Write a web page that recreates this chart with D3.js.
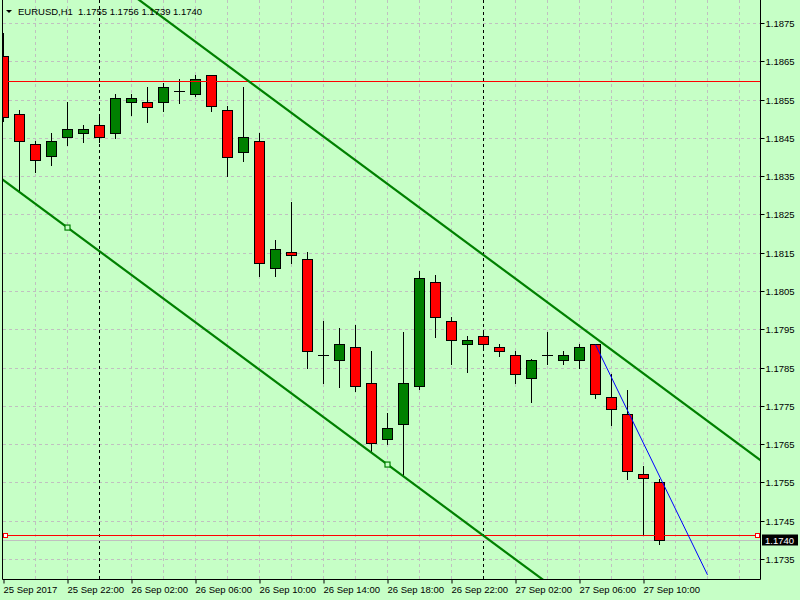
<!DOCTYPE html>
<html>
<head>
<meta charset="utf-8">
<script src="https://cdn.jsdelivr.net/npm/d3@7"></script>
<style>
html,body{margin:0;padding:0;background:#c6ffc6;}
svg{display:block;}
text{font-family:"Liberation Sans",Arial,sans-serif;font-size:9.5px;fill:#000;}
</style>
</head>
<body>
<svg id="chart" width="800" height="600"></svg>
<script>
// ---- data ----
const symbolTitle = "EURUSD,H1";
const lastOHLC = "1.1755 1.1756 1.1739 1.1740";
const opens  = [1.18663,1.18512,1.18433,1.18402,1.18451,1.18462,1.18483,1.18462,1.18543,1.18543,1.18543,1.18572,1.18564,1.18613,1.18522,1.18412,1.18441,1.18111,1.18152,1.18133,1.17883,1.17871,1.17903,1.17811,1.17663,1.17702,1.17801,1.18073,1.17971,1.17911,1.17932,1.17903,1.17882,1.17822,1.17882,1.17871,1.17871,1.17911,1.17772,1.17730,1.17571,1.1755];
const highs  = [1.18724,1.18523,1.18443,1.18463,1.18544,1.18484,1.18510,1.18564,1.18564,1.18583,1.18593,1.18603,1.18613,1.18614,1.18533,1.18583,1.18463,1.18183,1.18283,1.18152,1.17972,1.17953,1.17961,1.17893,1.17731,1.17942,1.18101,1.18092,1.17981,1.17932,1.17945,1.17911,1.17892,1.17872,1.17943,1.17892,1.17911,1.17911,1.17833,1.17791,1.17593,1.1756];
const lows   = [1.18493,1.18312,1.18362,1.18379,1.18432,1.18440,1.18440,1.18450,1.18510,1.18492,1.18521,1.18542,1.18560,1.18521,1.18351,1.18390,1.18090,1.18090,1.18122,1.17850,1.17810,1.17800,1.17789,1.17629,1.17651,1.17569,1.17795,1.17931,1.17860,1.17839,1.17898,1.17881,1.17811,1.17761,1.17860,1.17860,1.17850,1.17771,1.17701,1.17560,1.17412,1.1739];
const closes = [1.18504,1.18441,1.18391,1.18441,1.18473,1.18473,1.18451,1.18553,1.18553,1.18531,1.18582,1.18572,1.18603,1.18532,1.18401,1.18451,1.18122,1.18161,1.18143,1.17892,1.17883,1.17911,1.17801,1.17653,1.17692,1.17811,1.18083,1.17981,1.17921,1.17921,1.17911,1.17892,1.17832,1.17871,1.17882,1.17882,1.17903,1.17780,1.17741,1.17581,1.17561,1.1740];

const priceTicks = [1.1735,1.1745,1.1755,1.1765,1.1775,1.1785,1.1795,1.1805,1.1815,1.1825,1.1835,1.1845,1.1855,1.1865,1.1875];
const priceTickLabels = ["1.1735","1.1745","1.1755","1.1765","1.1775","1.1785","1.1795","1.1805","1.1815","1.1825","1.1835","1.1845","1.1855","1.1865","1.1875"];
const timeTickBars = [0,4,8,12,16,20,24,28,32,36,40];
const timeTickLabels = ["25 Sep 2017","25 Sep 22:00","26 Sep 02:00","26 Sep 06:00","26 Sep 10:00","26 Sep 14:00","26 Sep 18:00","26 Sep 22:00","27 Sep 02:00","27 Sep 06:00","27 Sep 10:00"];
const gridBars = [2,4,6,8,10,12,14,16,18,20,22,24,26,28,30,32,34,36,38,40,42,44,46];
const daySeparatorBars = [6,30];

// objects
const hLineUpper = 1.18598;      // red horizontal line
const hLineLower = 1.17412;      // red horizontal line with end markers
const bidPrice = 1.1740;
const bidLabel = "1.1740";
const channelBars = [4,24];           // lower channel anchors (bar index)
const channelPrices = [1.18217,1.17598];
const channelWidth = 0.00733;         // price offset of upper parallel line
const trendBars = [37,44];            // blue trend line
const trendPrices = [1.17911,1.17310];

// ---- layout ----
const W = 800, H = 600;
const plotLeft = 2.5, plotRight = 760.5, plotBottom = 579.5;
const svg = d3.select("#chart");
const bg = "#c6ffc6";
const cGreen = "#008000", cRed = "#ff0000";

svg.append("rect").attr("width",W).attr("height",H).attr("fill",bg);

const xs = d3.scaleLinear().domain([0,41]).range([3.5,659.5]);
const ys = d3.scaleLinear().domain([1.1735,1.1875]).range([559.5,23.5]);
const sy = p => Math.floor(ys(p)) + 0.5;

svg.append("defs").append("clipPath").attr("id","plotclip")
  .append("rect").attr("x",3).attr("y",0).attr("width",757).attr("height",579);

const plot = svg.append("g").attr("clip-path","url(#plotclip)");

// grid
plot.selectAll("line.hgrid").data(priceTicks).enter().append("line")
  .attr("x1",3).attr("x2",760).attr("y1",d=>sy(d)).attr("y2",d=>sy(d))
  .style("stroke","#c0c0c0").attr("stroke-dasharray","3,3");
plot.selectAll("line.vgrid").data(gridBars.filter(b=>!daySeparatorBars.includes(b))).enter().append("line")
  .attr("x1",d=>xs(d)).attr("x2",d=>xs(d)).attr("y1",0).attr("y2",579)
  .style("stroke","#c0c0c0").attr("stroke-dasharray","3,3");
plot.selectAll("line.sep").data(daySeparatorBars).enter().append("line")
  .attr("x1",d=>xs(d)).attr("x2",d=>xs(d)).attr("y1",0).attr("y2",579)
  .style("stroke","#000").attr("stroke-dasharray","3,3");

// bid line
plot.append("line").attr("x1",3).attr("x2",760).attr("y1",sy(bidPrice)).attr("y2",sy(bidPrice))
  .style("stroke","#c0c0c0");

// candles
const bars = d3.range(opens.length).map(i=>({i,o:opens[i],h:highs[i],l:lows[i],c:closes[i]}));
const cg = plot.append("g");
bars.forEach(b=>{
  const x = xs(b.i);
  cg.append("line").attr("x1",x).attr("x2",x).attr("y1",sy(b.h)-0.5).attr("y2",sy(b.l)+0.5)
    .style("stroke","#000").attr("stroke-width",1);
  const top = sy(Math.max(b.o,b.c)), bot = sy(Math.min(b.o,b.c));
  if (Math.abs(b.o-b.c) < 0.00002) {
    cg.append("line").attr("x1",x-5.5).attr("x2",x+5.5).attr("y1",top).attr("y2",top).style("stroke","#000");
  } else {
    cg.append("rect").attr("x",x-5).attr("width",10).attr("y",top).attr("height",Math.max(1,bot-top))
      .style("fill", b.c>b.o ? cGreen : cRed).style("stroke","#000").attr("stroke-width",1);
  }
});

// red horizontal lines
const redG = plot.append("g");
[hLineUpper, hLineLower].forEach(p=>{
  redG.append("rect").attr("x",3).attr("width",757).attr("y",Math.floor(ys(p))).attr("height",1)
    .style("fill",cRed);
});
[5.5,757.5].forEach(x=>{
  redG.append("rect").attr("x",x-2).attr("y",sy(hLineLower)-2).attr("width",4).attr("height",4)
    .style("fill","#ffffff").style("stroke",cRed).attr("stroke-width",1);
});

// channel
const slope = (channelPrices[1]-channelPrices[0])/(channelBars[1]-channelBars[0]);
const chP = i => channelPrices[0] + slope*(i-channelBars[0]);
const iA = -2, iB = 50;
[0, channelWidth].forEach(off=>{
  plot.append("line").attr("x1",xs(iA)).attr("y1",ys(chP(iA)+off)).attr("x2",xs(iB)).attr("y2",ys(chP(iB)+off))
    .style("stroke",cGreen).attr("stroke-width",2.2);
});
channelBars.forEach((b,k)=>{
  plot.append("rect").attr("x",xs(b)-2.5).attr("y",ys(channelPrices[k])-2.5).attr("width",5).attr("height",5)
    .style("fill",bg).style("stroke",cGreen).attr("stroke-width",1.2);
});

// blue trend line
plot.append("line").attr("x1",xs(trendBars[0])).attr("y1",ys(trendPrices[0]))
  .attr("x2",xs(trendBars[1])).attr("y2",ys(trendPrices[1]))
  .style("stroke","#0000ff").attr("stroke-width",1);

// frame
svg.append("path").attr("d",`M${plotLeft},0 V${plotBottom} H${plotRight} V0`)
  .style("fill","none").style("stroke","#000");

// right axis
const ya = svg.append("g").attr("transform",`translate(${plotRight},0)`)
  .call(d3.axisRight(ys).tickValues(priceTicks).tickSize(4).tickSizeOuter(0)
    .tickFormat((d,i)=>priceTickLabels[i]));
ya.select(".domain").remove();
ya.selectAll(".tick line").style("stroke","#000");
ya.selectAll(".tick").attr("transform",d=>`translate(0,${sy(d)})`);
ya.selectAll(".tick text").attr("x",5).attr("dy","0.34em")
  .style("font-family","'Liberation Sans',Arial,sans-serif").style("font-size","9.5px").style("fill","#000");

// bid label box
svg.append("rect").attr("x",762).attr("y",sy(bidPrice)-6).attr("width",36).attr("height",11).style("fill","#000");
svg.append("text").attr("x",765).attr("y",sy(bidPrice)).attr("dy","0.34em")
  .style("fill","#fff").text(bidLabel);

// bottom axis
const xa = svg.append("g").attr("transform",`translate(0,${plotBottom})`)
  .call(d3.axisBottom(xs).tickValues(timeTickBars).tickSize(4).tickSizeOuter(0)
    .tickFormat((d,i)=>timeTickLabels[i]));
xa.select(".domain").remove();
xa.selectAll(".tick line").style("stroke","#000");
xa.selectAll(".tick text").attr("text-anchor","start").attr("x",-0.5).attr("y",13).attr("dy",null)
  .style("font-family","'Liberation Sans',Arial,sans-serif").style("font-size","9.5px").style("fill","#000");

// title
svg.append("path").attr("d","M6,10 L12,10 L9,13 Z").style("fill","#000");
svg.append("text").attr("x",18).attr("y",14.5).text(symbolTitle);
svg.append("text").attr("x",78).attr("y",14.5).text(lastOHLC);
</script>
</body>
</html>
